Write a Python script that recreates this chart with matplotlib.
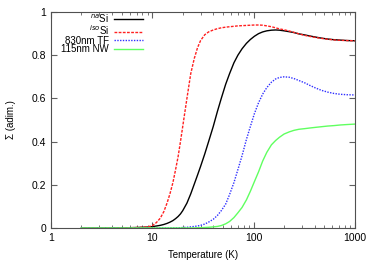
import matplotlib.pyplot as plt
import numpy as np

temps = [2, 3, 4, 5, 6, 7, 8, 9, 10, 11, 12, 13, 14, 15, 16, 17, 18, 19, 20, 22,
         24, 26, 28, 30, 33, 36, 40, 44, 48, 53, 58, 64, 70, 77, 85, 93, 102, 112,
         123, 135, 150, 165, 180, 200, 225, 250, 280, 320, 360, 410, 470, 540, 620,
         720, 840, 1000]

na_si = [0, 0, 0, 0.001, 0.001, 0.002, 0.003, 0.004, 0.006, 0.009, 0.012, 0.016,
         0.021, 0.027, 0.034, 0.043, 0.053, 0.065, 0.08, 0.115, 0.158, 0.203, 0.245,
         0.285, 0.343, 0.40, 0.47, 0.54, 0.60, 0.665, 0.715, 0.765, 0.80, 0.83, 0.855,
         0.873, 0.888, 0.90, 0.908, 0.913, 0.916, 0.917, 0.916, 0.913, 0.909, 0.905,
         0.899, 0.894, 0.889, 0.884, 0.879, 0.875, 0.872, 0.87, 0.868, 0.867]

iso_si = [0, 0, 0, 0.001, 0.001, 0.002, 0.003, 0.005, 0.01, 0.025, 0.045, 0.075,
          0.115, 0.16, 0.21, 0.27, 0.33, 0.40, 0.47, 0.60, 0.715, 0.785, 0.835, 0.868,
          0.895, 0.908, 0.917, 0.923, 0.927, 0.93, 0.932, 0.934, 0.936, 0.937, 0.938,
          0.939, 0.94, 0.94, 0.939, 0.936, 0.932, 0.927, 0.922, 0.918, 0.912, 0.906,
          0.899, 0.892, 0.887, 0.882, 0.878, 0.874, 0.871, 0.869, 0.868, 0.867]

tf_830 = [0, 0, 0, 0, 0, 0, 0, 0, 0, 0, 0, 0, 0, 0, 0, 0, 0.001, 0.001, 0.002,
          0.003, 0.005, 0.007, 0.009, 0.012, 0.018, 0.027, 0.04, 0.058, 0.08, 0.11,
          0.155, 0.21, 0.27, 0.335, 0.41, 0.47, 0.53, 0.58, 0.62, 0.65, 0.675, 0.69,
          0.697, 0.70, 0.698, 0.692, 0.683, 0.672, 0.66, 0.648, 0.637, 0.629, 0.623,
          0.619, 0.617, 0.616]

nw_115 = [0, 0, 0, 0, 0, 0, 0, 0, 0, 0, 0, 0, 0, 0, 0, 0, 0, 0, 0, 0,
          0, 0, 0.001, 0.001, 0.002, 0.003, 0.005, 0.007, 0.011, 0.019, 0.03, 0.048,
          0.07, 0.095, 0.13, 0.17, 0.215, 0.26, 0.31, 0.35, 0.385, 0.405, 0.42, 0.435,
          0.445, 0.452, 0.457, 0.46, 0.463, 0.466, 0.469, 0.472, 0.474, 0.477, 0.479,
          0.481]

plt.rcParams['font.family'] = ['Liberation Sans', 'DejaVu Sans']

fig = plt.figure(figsize=(3.74, 2.62), dpi=100)
ax = fig.add_axes([0.136, 0.130, 0.813, 0.824])

ax.plot(temps, na_si, color='black', linewidth=1.0, label='$^{na}$Si')
ax.plot(temps, iso_si, color='#ff2020', linewidth=1.0, linestyle=(0, (2, 1)),
        label='$^{iso}$Si')
ax.plot(temps, tf_830, color='#3030ff', linewidth=1.0, linestyle=(0, (1, 1)),
        label='830nm TF')
ax.plot(temps, nw_115, color='#60ff60', linewidth=1.0, label='115nm NW')

ax.set_xscale('log')
ax.set_xlim(1, 1000)
ax.set_ylim(0, 1)
ax.set_yticks([0, 0.2, 0.4, 0.6, 0.8, 1])
ax.set_yticklabels(['0', '0.2', '0.4', '0.6', '0.8', '1'])
ax.set_xticks([1, 10, 100, 1000])
ax.set_xticklabels(['1', '10', '100', '1000'])
ax.tick_params(which='both', direction='in', top=True, right=True,
               labelsize=7.5, color='#606060')
ax.tick_params(which='major', length=4)
ax.tick_params(which='minor', length=2)
for s in ax.spines.values():
    s.set_color('#505050')
    s.set_linewidth(0.8)

ax.set_xlabel('Temperature (K)', fontsize=7, labelpad=5)
ax.set_ylabel('Σ (adim.)', fontsize=7, labelpad=11)

ax.legend(loc='upper right', bbox_to_anchor=(0.322, 1.025), frameon=False,
          markerfirst=False, fontsize=7, handlelength=3.0, handletextpad=0.5,
          labelspacing=-0.15, borderpad=0.1)

fig.savefig('out.png', dpi=100)
